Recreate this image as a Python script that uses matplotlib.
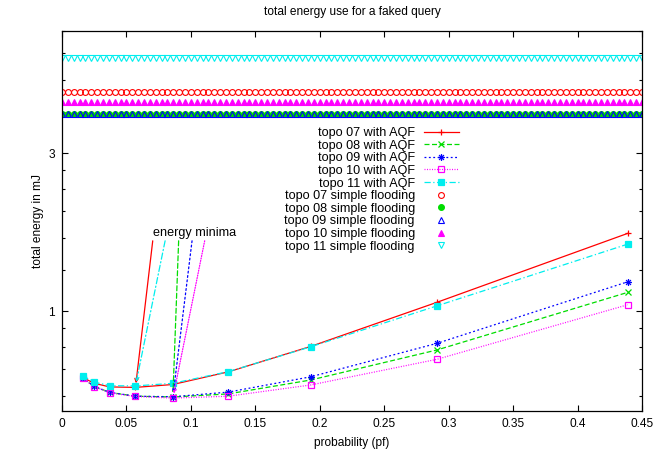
import numpy as np
import matplotlib
matplotlib.use('Agg')
import matplotlib.pyplot as plt
from matplotlib.path import Path
from matplotlib.ticker import FixedLocator, NullFormatter, FixedFormatter

plt.rcParams['font.family'] = ['Liberation Sans', 'DejaVu Sans']
plt.rcParams['font.size'] = 8.6

# probabilidade (pf) usada nas medicoes com AQF
prob = [0.016, 0.025, 0.037, 0.057, 0.086, 0.129, 0.193, 0.291, 0.439]

aqf_07 = [0.630, 0.605, 0.590, 0.588, 0.600, 0.655, 0.782, 1.063, 1.717]
aqf_08 = [0.627, 0.592, 0.568, 0.553, 0.550, 0.562, 0.619, 0.763, 1.139]
aqf_09 = [0.628, 0.592, 0.568, 0.553, 0.551, 0.569, 0.633, 0.799, 1.226]
aqf_10 = [0.626, 0.591, 0.566, 0.552, 0.546, 0.553, 0.598, 0.715, 1.045]
aqf_11 = [0.638, 0.610, 0.595, 0.594, 0.605, 0.656, 0.780, 1.037, 1.593]

# simple flooding: energia constante
flood_07 = 4.59
flood_08 = 3.95
flood_09 = 3.95
flood_10 = 4.27
flood_11 = 5.83

topos = ['07', '08', '09', '10', '11']

# origem das setas "energy minima"
minima_from_x = [0.0704, 0.0905, 0.1009, 0.1107, 0.080]
minima_from_y = 1.63

# asterisco estilo gnuplot (+ e x sobrepostos)
asterisco = Path(
    [(-1, 0), (1, 0), (0, -1), (0, 1), (-0.7, -0.7), (0.7, 0.7), (-0.7, 0.7), (0.7, -0.7)],
    [Path.MOVETO, Path.LINETO] * 4)

cores = ['#ff0000', '#00dd00', '#0000ff', '#ff00ff', '#00eeee']
estilos = ['-', (0, (4, 2)), (0, (1.5, 2)), (0, (0.8, 1.2)), (0, (5, 2, 1, 2))]
marc_aqf = ['+', 'x', asterisco, 's', 's']
fill_aqf = [True, True, True, False, True]
marc_flood = ['o', 'o', '^', '^', 'v']
fill_flood = [False, True, False, True, False]

fig = plt.figure(figsize=(6.69, 4.5), dpi=100)
ax = fig.add_axes([62 / 669, 1 - 410.7 / 450, 580 / 669, 379.4 / 450])

series_aqf = [aqf_07, aqf_08, aqf_09, aqf_10, aqf_11]
series_flood = [flood_07, flood_08, flood_09, flood_10, flood_11]

for i, s in enumerate(series_aqf):
    fc = cores[i] if fill_aqf[i] else 'none'
    ax.plot(prob, s, color=cores[i], linestyle=estilos[i], linewidth=0.9,
            marker=marc_aqf[i], markersize=5, markerfacecolor=fc,
            markeredgecolor=cores[i], markeredgewidth=0.9,
            label=f'topo {topos[i]} with AQF')

x_flood = np.linspace(0, 0.45, 100)
for i, v in enumerate(series_flood):
    fc = cores[i] if fill_flood[i] else 'none'
    ax.plot(x_flood, np.full(len(x_flood), v), linestyle='none',
            marker=marc_flood[i], markersize=4.2, markerfacecolor=fc,
            markeredgecolor=cores[i], markeredgewidth=0.8,
            label=f'topo {topos[i]} simple flooding')

# setas para os minimos
for i, s in enumerate(series_aqf):
    k = int(np.argmin(s))
    ax.annotate('', xy=(prob[k], s[k]), xytext=(minima_from_x[i], minima_from_y),
                arrowprops=dict(arrowstyle='->', color=cores[i], lw=0.9,
                                linestyle=estilos[i], shrinkA=0, shrinkB=3,
                                mutation_scale=6))
ax.text(minima_from_x[0], 1.72, 'energy minima', ha='left', va='center', fontsize=9.1)

ax.set_yscale('log')
ax.set_xlim(0, 0.45)
ax.set_ylim(0.5, 7)
ax.set_xticks(np.arange(0, 0.451, 0.05))
ax.set_xticklabels(['0', '0.05', '0.1', '0.15', '0.2', '0.25', '0.3', '0.35', '0.4', '0.45'])
ax.yaxis.set_major_locator(FixedLocator([1, 3]))
ax.yaxis.set_major_formatter(FixedFormatter(['1', '3']))
menores = [1/3 + k * (2/3) / 6 for k in range(1, 6)] + [1 + k * 2 / 6 for k in range(1, 6)] + [3 + k for k in range(1, 6)]
ax.yaxis.set_minor_locator(FixedLocator(menores))
ax.yaxis.set_minor_formatter(NullFormatter())

ax.tick_params(which='both', direction='in', top=True, right=True, width=0.8)
ax.tick_params(which='major', length=4.5, pad=5)
ax.tick_params(which='minor', length=2.5)
for sp in ax.spines.values():
    sp.set_linewidth(0.9)

ax.set_title('total energy use for a faked query', fontsize=8.6, pad=12)
ax.set_xlabel('probability (pf)', labelpad=5)
ax.set_ylabel('total energy in mJ', labelpad=3)

leg = ax.legend(loc='upper right', bbox_to_anchor=((459 - 62) / 580, (410.7 - 127) / 379.4),
                frameon=False, markerfirst=False, borderpad=0, borderaxespad=0,
                handlelength=2.8, handletextpad=0.7, labelspacing=0.05, fontsize=9.1)

fig.savefig('out.png', dpi=100)
